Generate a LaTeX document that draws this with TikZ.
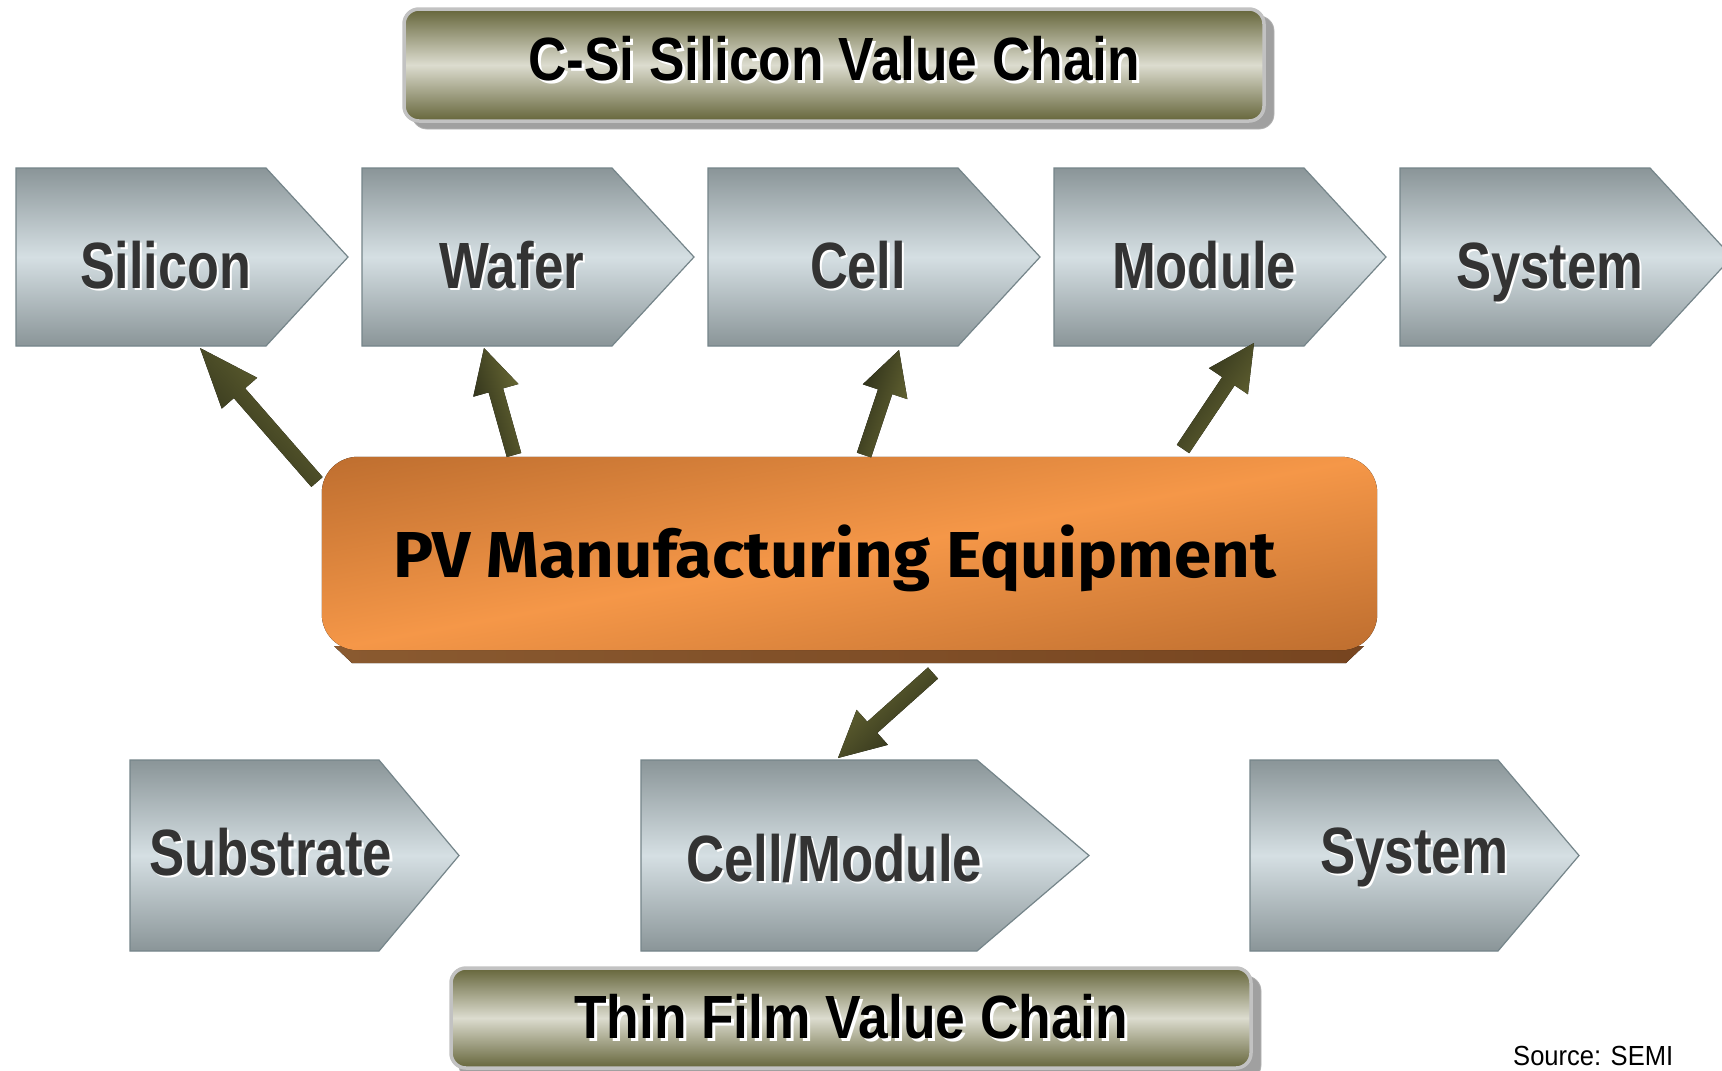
\documentclass[tikz,border=0pt]{standalone}
\usepackage{fontspec}
\setmainfont{Liberation Sans}
\newfontfamily\firafont{Fira Sans}
\usepackage{graphicx}
\usetikzlibrary{calc}

\definecolor{chevTop}{HTML}{8A9598}
\definecolor{chevMid}{HTML}{D5DFE3}
\definecolor{chevLine}{HTML}{75858A}
\definecolor{txtGray}{HTML}{333333}
\definecolor{olD}{HTML}{65653A}
\definecolor{olL}{HTML}{DCDCCF}
\definecolor{bnBorder}{HTML}{C2C2C2}
\definecolor{bnShadow}{HTML}{A0A0A0}
\definecolor{orD}{HTML}{BE6E2F}
\definecolor{orL}{HTML}{F59748}
\definecolor{orShL}{HTML}{8A5A30}
\definecolor{orShD}{HTML}{774520}
\definecolor{arD}{HTML}{2A2C18}
\definecolor{arL}{HTML}{6B6B35}

\newcommand\fitxt[3]{\resizebox{#1pt}{#2pt}{\vphantom{X}\smash{#3}}}

% name, x, baseline y, width, cap height, text, main colour, shadow offset
\newcommand\shtxt[8]{%
  \node[txtnode, text=white, anchor=base west] (#1s) at ({#2+#8},{#3+#8}) {\fitxt{#4}{#5}{#6}};
  \node[txtnode, text=#7, anchor=base west] (#1) at (#2,#3) {\fitxt{#4}{#5}{#6}};}

% x, ytop, ybot, rect width, tip width
\newcommand\chev[5]{%
  \path[chevstyle] (#1,#2) -- ({#1+#4},#2) -- ({#1+#4+#5},{(#2+#3)/2}) -- ({#1+#4},#3) -- (#1,#3) -- cycle;}

% tail, head, shading angle, head length
\newcommand\fatarrow[4]{%
  \coordinate (#1-b) at ($(#2)!#4pt!(#1)$);
  \fill[left color=arD, right color=arL, shading angle=#3]
    ($(#1)!7.5pt!90:(#2)$) -- ($(#1-b)!7.5pt!90:(#2)$) -- ($(#1-b)!23.5pt!90:(#2)$) --
    (#2) -- ($(#1-b)!23.5pt!-90:(#2)$) -- ($(#1-b)!7.5pt!-90:(#2)$) -- ($(#1)!7.5pt!-90:(#2)$) -- cycle;}

\tikzset{
  txtnode/.style={inner sep=0pt, outer sep=0pt, font=\bfseries},
  chevstyle/.style={draw=chevLine, line width=1.2pt, top color=chevTop, bottom color=chevTop, middle color=chevMid},
  bannerstyle/.style={draw=bnBorder, line width=3.5pt, rounded corners=15pt, top color=olD, bottom color=olD, middle color=olL},
  bannershadow/.style={fill=bnShadow, draw=black!30, line width=0.8pt, rounded corners=15pt},
}

\begin{document}
\begin{tikzpicture}[x=1pt,y=-1pt]
\useasboundingbox (0,0) rectangle (1722,1071);
\clip (0,0) rectangle (1722,1071);
\fill[white] (0,0) rectangle (1722,1071);

% top banner
\path[bannershadow] (412,16) rectangle (1274,129);
\path[bannerstyle] (404,9) rectangle (1264,121);
\shtxt{topT}{528}{80}{612}{42}{C-Si Silicon Value Chain}{black}{3}

% top row chevrons
\chev{16}{168}{346}{250}{82}
\chev{362}{168}{346}{250}{82}
\chev{708}{168}{346}{250}{82}
\chev{1054}{168}{346}{250}{82}
\chev{1400}{168}{346}{250}{82}
\shtxt{silT}{80}{288}{171}{45}{Silicon}{txtGray}{2.5}
\shtxt{wafT}{439}{288}{145}{45}{Wafer}{txtGray}{2.5}
\shtxt{celT}{810}{288}{96}{45}{Cell}{txtGray}{2.5}
\shtxt{modT}{1112}{288}{184}{45}{Module}{txtGray}{2.5}
\shtxt{sysT}{1456}{288}{187}{45}{System}{txtGray}{2.5}

% centre box
\fill[left color=orShL, right color=orShD] (334,646) -- (1364,646) -- (1346,663) -- (352,663) -- cycle;
\node[minimum width=1055pt, minimum height=193pt, inner sep=0pt] (pv) at (849.5,553.5) {};
\begin{scope}
  \clip[rounded corners=36pt] (pv.north west) rectangle (pv.south east);
  \begin{scope}[transform canvas={rotate around={10.4:(849.5,553.5)}}]
    \fill[top color=orD, bottom color=orD, middle color=orL] (200,363) rectangle (1500,744);
  \end{scope}
\end{scope}
\node[inner sep=0pt, anchor=base west, text=black] (pvT) at (393,577)
  {\firafont\bfseries\fitxt{883}{45}{PV Manufacturing Equipment}};

% arrows
\coordinate (a1t) at (317,482); \coordinate (a1h) at (200,348);
\coordinate (a2t) at (514,455); \coordinate (a2h) at (484,348);
\coordinate (a3t) at (864,455); \coordinate (a3h) at (899,350);
\coordinate (a4t) at (1183,449); \coordinate (a4h) at (1254,343);
\coordinate (a5t) at (933,673); \coordinate (a5h) at (838,758);
\fatarrow{a1t}{a1h}{131}{60}
\fatarrow{a2t}{a2h}{106}{44}
\fatarrow{a3t}{a3h}{72}{44}
\fatarrow{a4t}{a4h}{56}{46}
\fatarrow{a5t}{a5h}{222}{46}

% bottom row chevrons
\chev{130}{760}{951}{249}{80}
\chev{641}{760}{951}{336}{112}
\chev{1250}{760}{951}{248}{81}
\shtxt{subT}{149}{875}{243}{45}{Substrate}{txtGray}{2.5}
\shtxt{cmT}{686}{881}{296}{45}{Cell/Module}{txtGray}{2.5}
\shtxt{sys2T}{1320}{873}{188}{45}{System}{txtGray}{2.5}

% bottom banner
\path[bannershadow] (459,976) rectangle (1261,1080);
\path[bannerstyle] (451,968) rectangle (1251,1068);
\shtxt{botT}{574}{1038}{554}{42}{Thin Film Value Chain}{black}{3}

% source
\node[inner sep=0pt, anchor=base west] (src) at (1513,1065) {\fitxt{160}{19}{\mdseries Source: SEMI}};
\end{tikzpicture}
\end{document}
